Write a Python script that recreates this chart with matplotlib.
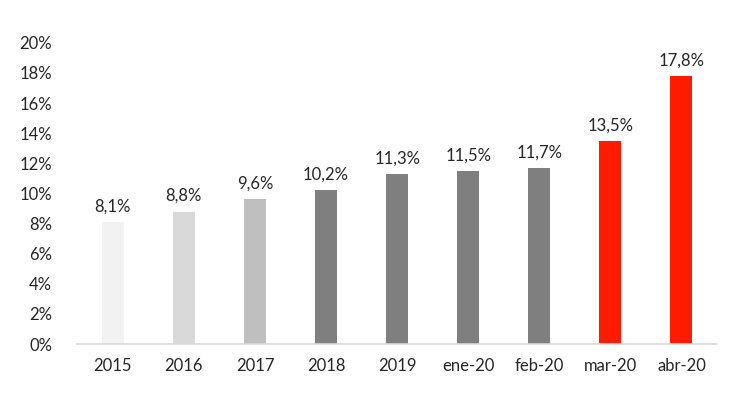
import matplotlib
matplotlib.use("Agg")
import matplotlib.pyplot as plt
from matplotlib.ticker import FuncFormatter

plt.rcParams['font.family'] = ['Lato', 'DejaVu Sans']

categories = ["2015", "2016", "2017", "2018", "2019", "ene-20", "feb-20", "mar-20", "abr-20"]
values = [8.1, 8.8, 9.6, 10.2, 11.3, 11.5, 11.7, 13.5, 17.8]
bar_colors = ["#f2f2f2", "#d9d9d9", "#bfbfbf", "#7f7f7f", "#7f7f7f",
              "#7f7f7f", "#7f7f7f", "#fe1c00", "#fe1c00"]

fig = plt.figure(figsize=(7.5, 4.16), dpi=100)
ax = fig.add_axes([0.103, 0.173, 0.853, 0.724])

x = range(len(categories))
bars = ax.bar(x, values, width=0.31, color=bar_colors)

# data labels with comma decimals
for i, v in enumerate(values):
    ax.text(i, v + 0.5, ("%.1f%%" % v).replace(".", ","), ha="center", va="bottom",
            fontsize=12, color="#262626")

ax.set_xlim(-0.5, len(categories) - 0.5)
ax.set_ylim(0, 20)
ax.set_yticks(range(0, 21, 2))
ax.yaxis.set_major_formatter(FuncFormatter(lambda v, p: "%d%%" % v))
ax.set_xticks(list(x))
ax.set_xticklabels(categories)

for s in ["top", "right", "left"]:
    ax.spines[s].set_visible(False)
ax.spines["bottom"].set_color("#d9d9d9")
ax.spines["bottom"].set_linewidth(1.2)
ax.tick_params(axis="both", length=0, labelsize=12, colors="#262626")
ax.tick_params(axis="x", pad=10)
ax.tick_params(axis="y", pad=18)

fig.savefig("out.png", dpi=100)
